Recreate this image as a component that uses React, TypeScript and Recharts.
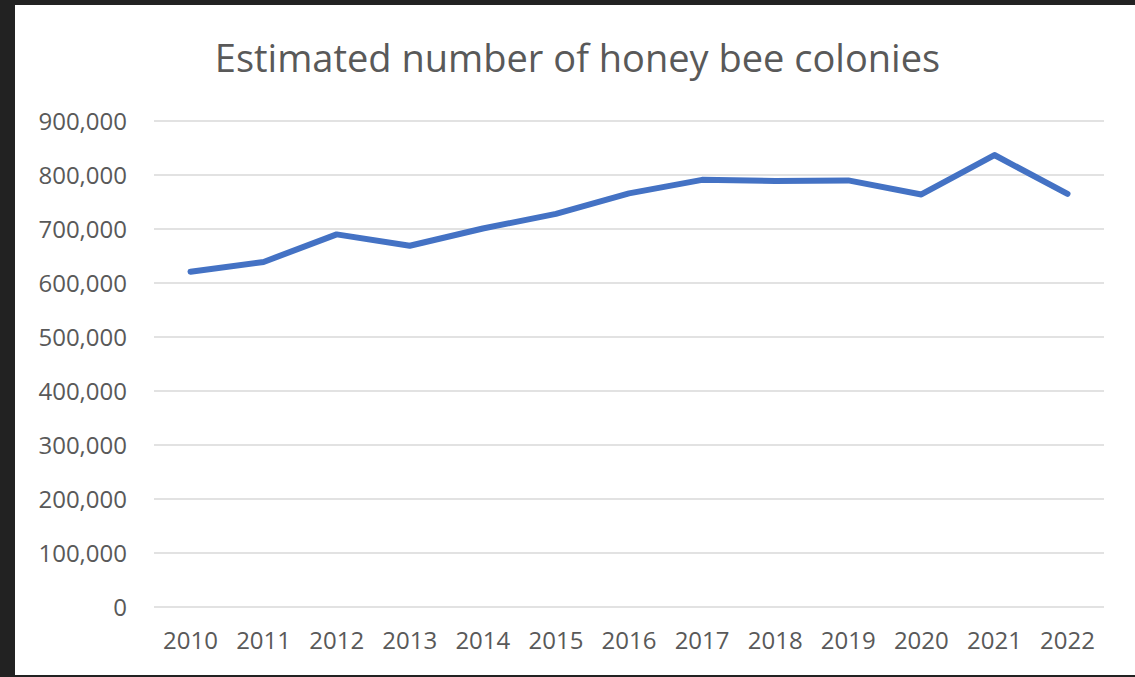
import React from "react";
import { CartesianGrid, Line, LineChart, XAxis, YAxis } from "recharts";

const years = ["2010", "2011", "2012", "2013", "2014", "2015", "2016", "2017", "2018", "2019", "2020", "2021", "2022"];
const colonies = [621000, 639000, 690000, 669000, 701000, 728000, 766000, 791000, 789000, 790000, 764000, 837000, 765000];
const yTicks = [0, 100000, 200000, 300000, 400000, 500000, 600000, 700000, 800000, 900000];

const data = years.map((year, i) => ({ year, colonies: colonies[i] }));

const font = "'Open Sans', 'Lato', sans-serif";
const textColor = "#595959";

export default function App() {
  return (
    <div style={{ position: "absolute", left: 0, top: 0, width: 1135, height: 677, background: "#222222", overflow: "hidden" }}>
      <div style={{ position: "absolute", left: 15, top: 5, width: 1120, height: 670, background: "#ffffff" }} />
      <div
        style={{
          position: "absolute",
          left: 0,
          width: 1155,
          top: 29,
          textAlign: "center",
          fontFamily: font,
          fontSize: 38,
          color: textColor,
          lineHeight: "56px",
        }}
      >
        Estimated number of honey bee colonies
      </div>
      <div style={{ position: "absolute", left: 0, top: 0 }}>
        <LineChart width={1135} height={677} data={data} margin={{ top: 121, right: 31, bottom: 0, left: 0 }}>
          <CartesianGrid horizontal vertical={false} stroke="#d9d9d9" strokeWidth={1.5} />
          <XAxis
            dataKey="year"
            height={70}
            axisLine={false}
            tickLine={false}
            tickMargin={19}
            padding={{ left: 36.5, right: 36.5 }}
            tick={{ fill: textColor, fontSize: 24, fontFamily: font }}
            interval={0}
          />
          <YAxis
            width={154}
            domain={[0, 900000]}
            ticks={yTicks}
            axisLine={false}
            tickLine={false}
            tickMargin={21}
            tick={{ fill: textColor, fontSize: 24, fontFamily: font }}
            tickFormatter={(v: number) => v.toLocaleString("en-US")}
          />
          <Line
            type="linear"
            dataKey="colonies"
            stroke="#4472c4"
            strokeWidth={6}
            strokeLinecap="round"
            strokeLinejoin="round"
            dot={false}
            isAnimationActive={false}
          />
        </LineChart>
      </div>
    </div>
  );
}
